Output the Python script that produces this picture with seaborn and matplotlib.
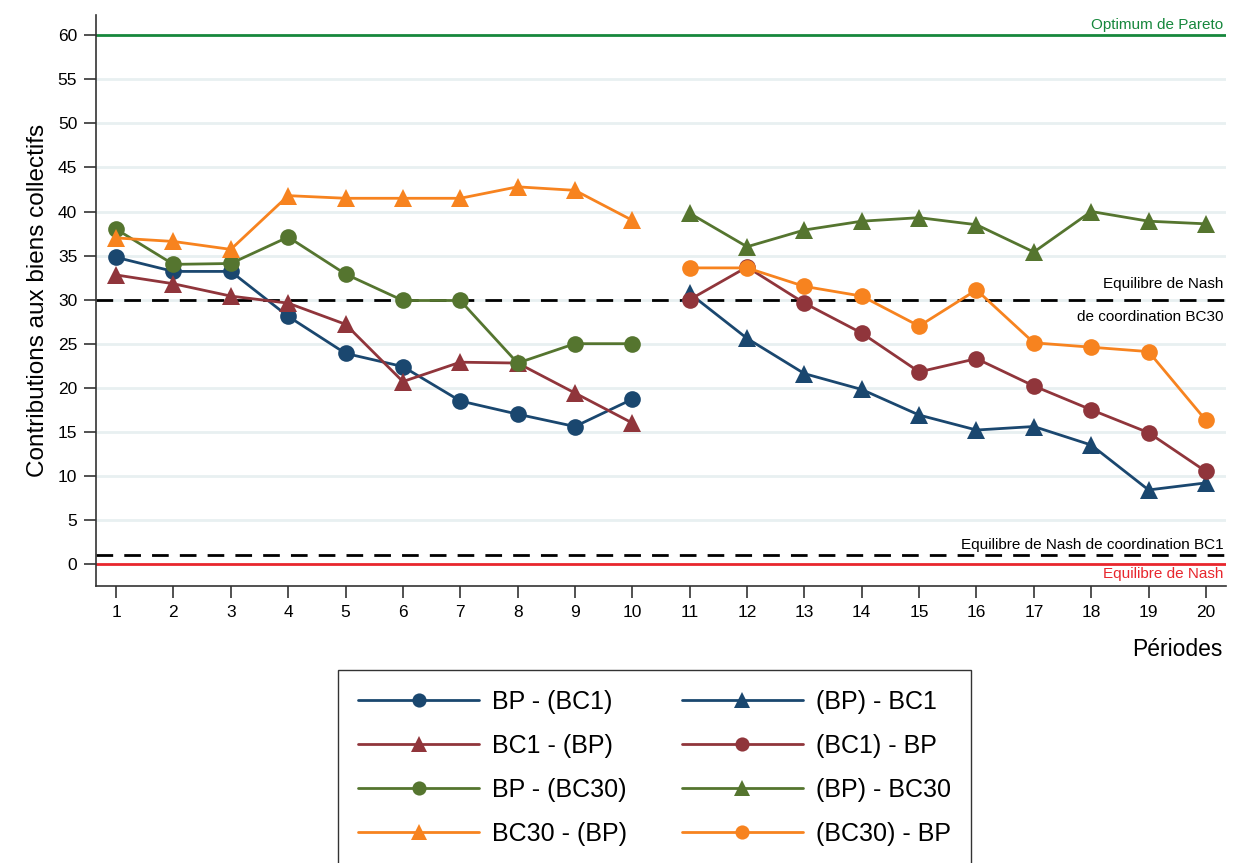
import numpy as np
import pandas as pd
import matplotlib
matplotlib.use("Agg")
import matplotlib.pyplot as plt
import seaborn as sns

# ---------------- data ----------------
periods_a = list(range(1, 11))
periods_b = list(range(11, 21))

bp_bc1 = [34.8, 33.2, 33.2, 28.1, 23.9, 22.4, 18.5, 17.0, 15.6, 18.7]
bc1_bp = [32.8, 31.8, 30.4, 29.6, 27.2, 20.7, 22.9, 22.8, 19.4, 16.0]
bp_bc30 = [38.0, 34.0, 34.1, 37.1, 32.9, 29.9, 29.9, 22.8, 25.0, 25.0]
bc30_bp = [37.0, 36.6, 35.7, 41.8, 41.5, 41.5, 41.5, 42.8, 42.4, 39.0]

pbp_bc1 = [30.7, 25.6, 21.6, 19.8, 16.9, 15.2, 15.6, 13.5, 8.4, 9.2]
pbc1_bp = [30.0, 33.7, 29.6, 26.2, 21.8, 23.3, 20.2, 17.5, 14.9, 10.5]
pbp_bc30 = [39.8, 36.0, 37.9, 38.9, 39.3, 38.5, 35.4, 40.0, 38.9, 38.6]
pbc30_bp = [33.6, 33.6, 31.5, 30.4, 27.0, 31.1, 25.1, 24.6, 24.1, 16.3]

series_labels = ["BP - (BC1)", "BC1 - (BP)", "BP - (BC30)", "BC30 - (BP)",
                 "(BP) - BC1", "(BC1) - BP", "(BP) - BC30", "(BC30) - BP"]

pareto_level = 60
nash_bc30_level = 30
nash_bc1_level = 1
nash_level = 0

yticks = list(range(0, 61, 5))
xticks = list(range(1, 21))

# ---------------- style ----------------
sns.set_theme(style="white")
plt.rcParams['font.family'] = ['Liberation Sans', 'DejaVu Sans']
plt.rcParams['text.color'] = 'black'
plt.rcParams['axes.labelcolor'] = 'black'
plt.rcParams['xtick.color'] = 'black'
plt.rcParams['ytick.color'] = 'black'

navy = "#1a476f"
maroon = "#90353b"
green = "#55752f"
orange = "#f7831f"

fig = plt.figure(figsize=(12.38, 8.63), dpi=100)
ax = fig.add_axes([96 / 1238, 1 - 586 / 863, (1226 - 96) / 1238, (586 - 15) / 863])

# grid
for yv in yticks[1:-1]:
    ax.axhline(yv, color="#e8f0f1", lw=2, zorder=0)

specs = [
    (periods_a, bp_bc1, navy, "o", 12),
    (periods_a, bc1_bp, maroon, "^", 13),
    (periods_a, bp_bc30, green, "o", 12),
    (periods_a, bc30_bp, orange, "^", 13),
    (periods_b, pbp_bc1, navy, "^", 13),
    (periods_b, pbc1_bp, maroon, "o", 12),
    (periods_b, pbp_bc30, green, "^", 13),
    (periods_b, pbc30_bp, orange, "o", 12),
]

# reference lines
ax.axhline(pareto_level, color="#16873c", lw=2, zorder=1)
ax.axhline(nash_bc30_level, color="black", lw=2, ls=(0, (6, 4)), zorder=1)
ax.axhline(nash_bc1_level, color="black", lw=2, ls=(0, (6, 4)), zorder=1)
ax.axhline(nash_level, color="#e8262d", lw=2, zorder=1)

for (xs, ys, col, mk, ms), lab in zip(specs, series_labels):
    df = pd.DataFrame({"x": xs, "y": ys})
    sns.lineplot(data=df, x="x", y="y", ax=ax, color=col, marker=mk,
                 markersize=ms, markeredgewidth=0, lw=2, label=lab, zorder=3)

h, l = ax.get_legend_handles_labels()
ax.get_legend().remove()

ax.set_xlim(0.65, 20.35)
ax.set_ylim(-2.5, 62.3)
ax.set_xticks(xticks)
ax.set_yticks(yticks)
ax.tick_params(axis="both", which="both", direction="out", length=8.5, width=1.2,
               color="#333333", labelsize=12.5, left=True, bottom=True, pad=5)
for s in ["top", "right"]:
    ax.spines[s].set_visible(False)
for s in ["left", "bottom"]:
    ax.spines[s].set_color("#333333")
    ax.spines[s].set_linewidth(1.2)

ax.set_xlabel("")
ax.set_ylabel("Contributions aux biens collectifs", fontsize=17.5, labelpad=6)
fig.text(1222 / 1238, 1 - 650 / 863, "Périodes", ha="right", va="center", fontsize=16.5)

# annotations
xr = 20.3
ax.text(xr, 60.4, "Optimum de Pareto", color="#16873c", ha="right", va="bottom", fontsize=11)
ax.text(xr, 31.0, "Equilibre de Nash", color="black", ha="right", va="bottom", fontsize=11)
ax.text(xr, 28.8, "de coordination BC30", color="black", ha="right", va="top", fontsize=11)
ax.text(xr, 1.4, "Equilibre de Nash de coordination BC1", color="black", ha="right", va="bottom", fontsize=11)
ax.text(xr, -0.4, "Equilibre de Nash", color="#e8262d", ha="right", va="top", fontsize=11)

leg = fig.legend(h, l, loc="upper left", bbox_to_anchor=(338 / 1238, 1 - 670 / 863),
                 borderaxespad=0,
                 ncol=2, fontsize=18, frameon=True, fancybox=False, edgecolor="black",
                 handlelength=4.85, handletextpad=0.5, columnspacing=2.2,
                 labelspacing=0.8, borderpad=0.8, markerscale=0.85)
leg.get_frame().set_linewidth(1)

fig.savefig("out.png", dpi=100)
